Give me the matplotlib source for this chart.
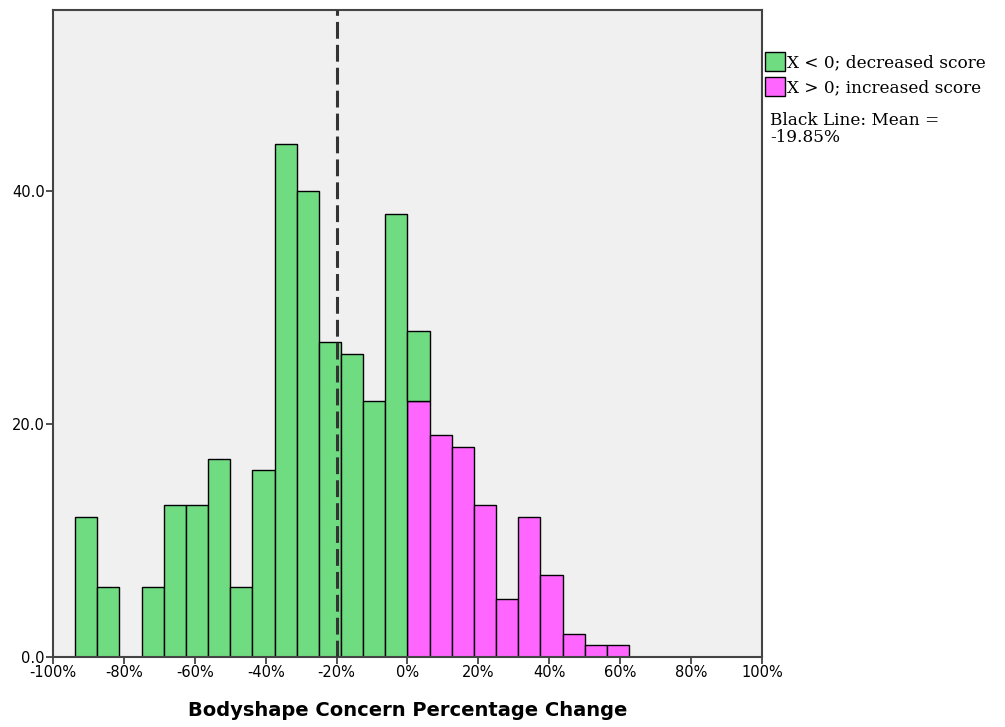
import numpy as np
import matplotlib.pyplot as plt
from matplotlib.patches import Patch

# bin left edges (percent change), width 6.25
bin_left = [-93.75, -87.5, -81.25, -75, -68.75, -62.5, -56.25, -50, -43.75,
            -37.5, -31.25, -25, -18.75, -12.5, -6.25, 0, 6.25, 12.5, 18.75,
            25, 31.25, 37.5, 43.75, 50, 56.25]
bin_width = 6.25

# counts per bin
decreased = [12, 6, 0, 6, 13, 13, 17, 6, 16, 44, 40, 27, 26, 22, 38, 6,
             0, 0, 0, 0, 0, 0, 0, 0, 0]
increased = [0, 0, 0, 0, 0, 0, 0, 0, 0, 0, 0, 0, 0, 0, 0, 22,
             19, 18, 13, 5, 12, 7, 2, 1, 1]

mean_change = -19.85

x_ticks = [-100, -80, -60, -40, -20, 0, 20, 40, 60, 80, 100]
y_ticks = [0, 20, 40]

green = '#70DC82'
magenta = '#FF66FF'

fig = plt.figure(figsize=(10.05, 7.27), dpi=100)
ax = fig.add_axes([0.0527, 0.0963, 0.7055, 0.8900])
ax.set_facecolor('#F0F0F0')

dec = np.array(decreased)
inc = np.array(increased)
ax.bar(bin_left, inc, width=bin_width, align='edge', color=magenta,
       edgecolor='black', linewidth=1.0, zorder=2)
mask = dec > 0
ax.bar(np.array(bin_left)[mask], dec[mask], width=bin_width, bottom=inc[mask],
       align='edge', color=green, edgecolor='black', linewidth=1.0, zorder=2)

ax.axvline(mean_change, color='#333333', linewidth=2.2,
           dashes=(5.5, 2.0), zorder=3)

ax.set_xlim(-100, 100)
ax.set_ylim(0, 55.5)
ax.set_xticks(x_ticks)
ax.set_xticklabels([f'{v}%' for v in x_ticks])
ax.set_yticks(y_ticks)
ax.set_yticklabels([f'{v:.1f}' for v in y_ticks])
ax.tick_params(axis='both', length=5, width=1.2, color='#333333',
               labelsize=10.5, pad=1)
for s in ax.spines.values():
    s.set_color('#444444')
    s.set_linewidth(1.5)

ax.set_xlabel('Bodyshape Concern Percentage Change', fontsize=14,
              fontweight='bold', labelpad=15)

handles = [Patch(facecolor=green, edgecolor='black', label='X < 0; decreased score'),
           Patch(facecolor=magenta, edgecolor='black', label='X > 0; increased score')]
leg = fig.legend(handles=handles, loc='upper left', bbox_to_anchor=(0.761, 0.928),
                 frameon=False, prop={'family': 'DejaVu Serif', 'size': 12.2},
                 handlelength=1.2, handleheight=1.3, handletextpad=0.12,
                 labelspacing=0.35, borderaxespad=0, borderpad=0)
fig.text(0.766, 0.846, 'Black Line: Mean =\n-19.85%', family='DejaVu Serif',
         fontsize=12.2, va='top', ha='left', linespacing=1.0)

fig.savefig('out.png', dpi=100)
